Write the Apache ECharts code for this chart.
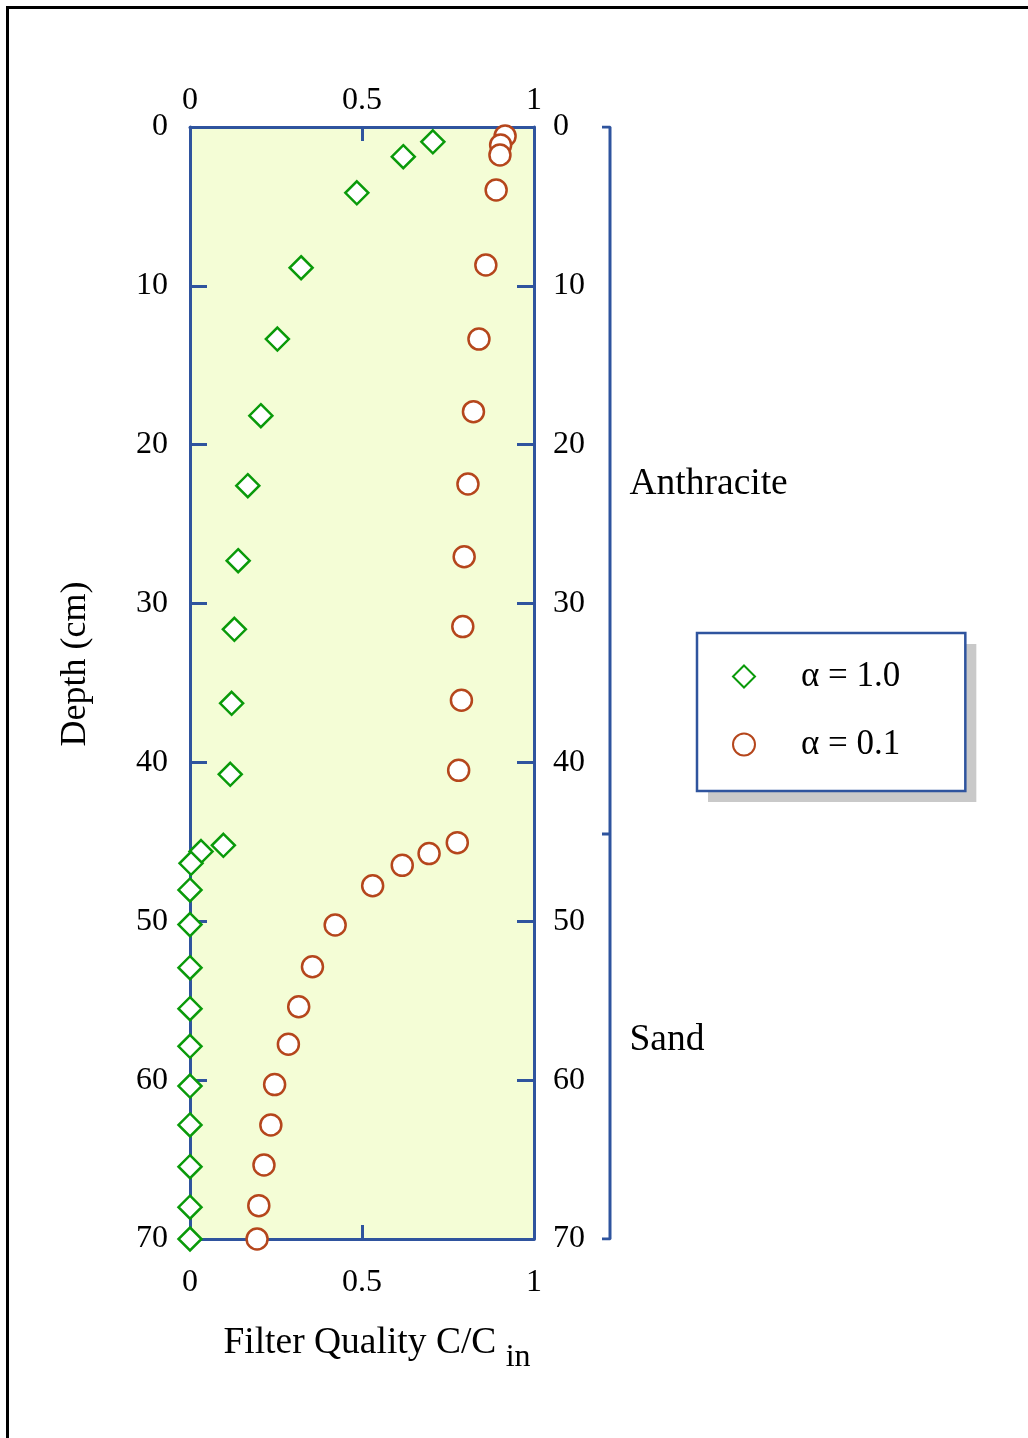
<!DOCTYPE html>
<html>
<head>
<meta charset="utf-8">
<script src="https://cdn.jsdelivr.net/npm/echarts@6/dist/echarts.min.js"></script>
<style>
  html, body { margin: 0; padding: 0; background: #ffffff; }
  #chart { width: 1028px; height: 1438px; }
</style>
</head>
<body>
<div id="chart"></div>
<script>
// ---- Data ----
const seriesNames = ['α = 1.0', 'α = 0.1'];

// α = 1.0 : [C/Cin, depth (cm)]
const alpha10Quality = [0.706, 0.620, 0.485, 0.323, 0.254, 0.206, 0.168, 0.140, 0.129, 0.121, 0.117, 0.097, 0.032, 0.003, 0, 0, 0, 0, 0, 0, 0, 0, 0, 0];
const alpha10Depth   = [0.93, 1.87, 4.14, 8.86, 13.35, 18.17, 22.58, 27.30, 31.62, 36.28, 40.75, 45.22, 45.61, 46.35, 48.03, 50.21, 52.92, 55.50, 57.87, 60.37, 62.82, 65.45, 68.00, 70.0];

// α = 0.1
const alpha01Quality = [0.916, 0.903, 0.901, 0.890, 0.860, 0.840, 0.824, 0.808, 0.797, 0.793, 0.789, 0.781, 0.777, 0.695, 0.617, 0.531, 0.422, 0.356, 0.316, 0.286, 0.246, 0.235, 0.215, 0.200, 0.195];
const alpha01Depth   = [0.57, 1.13, 1.76, 3.97, 8.69, 13.35, 17.92, 22.47, 27.05, 31.45, 36.09, 40.50, 45.05, 45.74, 46.48, 47.76, 50.23, 52.86, 55.38, 57.74, 60.28, 62.82, 65.34, 67.90, 70.0];

// Filter layers
const layerNames  = ['Anthracite', 'Sand'];
const layerBounds = [0, 44.5, 70];
const layerLabelDepths = [22.5, 57.5];

// Axis ranges / ticks
const depthMin = 0, depthMax = 70, depthStep = 10;
const qualityMin = 0, qualityMax = 1, qualityStep = 0.5;

// ---- Styling ----
const AXIS_BLUE = '#2f549e';
const GREEN = '#0a9a0a';
const RUST = '#b5461c';
const FONT = 'Liberation Serif';

const pairs = (xs, ys) => xs.map((v, i) => [v, ys[i]]);

// bracket geometry from layer bounds
const bracketOuter = [[0, layerBounds[0]], [1, layerBounds[0]], [1, layerBounds[layerBounds.length - 1]], [0, layerBounds[layerBounds.length - 1]]];
const bracketInner = layerBounds.slice(1, -1).map(b => [[0, b], [1, b]]);
const layerLabels = layerNames.map((n, i) => [1, layerLabelDepths[i], n]);

const chart = echarts.init(document.getElementById('chart'), null, { renderer: 'canvas' });

const xAxisCommon = {
  type: 'value', min: qualityMin, max: qualityMax, interval: qualityStep,
  splitLine: { show: false },
  axisLine: { show: true, onZero: false, lineStyle: { color: AXIS_BLUE, width: 3 } },
  axisTick: { show: true, inside: true, length: 14, lineStyle: { color: AXIS_BLUE, width: 3 } },
  axisLabel: { color: '#000', fontSize: 32, fontFamily: FONT }
};
const yAxisCommon = {
  type: 'value', inverse: true, min: depthMin, max: depthMax, interval: depthStep,
  splitLine: { show: false },
  axisLine: { show: true, onZero: false, lineStyle: { color: AXIS_BLUE, width: 3 } },
  axisTick: { show: true, inside: true, length: 17, lineStyle: { color: AXIS_BLUE, width: 3 } },
  axisLabel: { color: '#000', fontSize: 32, fontFamily: FONT }
};

const inner = bracketInner.map(seg => ({
  type: 'line', xAxisIndex: 2, yAxisIndex: 2, data: seg, symbol: 'none',
  lineStyle: { color: AXIS_BLUE, width: 3 }, silent: true
}));

const legendCommon = {
  orient: 'vertical',
  left: 697, top: 633,
  padding: [26, 65, 29, 35],
  itemGap: 33,
  itemWidth: 22, itemHeight: 22,
  selectedMode: false,
  data: seriesNames
};

chart.setOption({
  animation: false,
  backgroundColor: '#ffffff',
  textStyle: { fontFamily: FONT },
  grid: [
    { left: 190, top: 127, width: 344, height: 1112, show: true, backgroundColor: '#f4fdd6', borderWidth: 0 },
    { left: 602, top: 127, width: 8, height: 1112, show: false }
  ],
  xAxis: [
    Object.assign({}, xAxisCommon, {
      gridIndex: 0, position: 'bottom',
      axisLabel: Object.assign({}, xAxisCommon.axisLabel, { margin: 28 }),
      name: '{m|Filter Quality C/C }{s|in}',
      nameLocation: 'middle', nameGap: 85,
      nameTextStyle: {
        padding: [0, 0, 0, 30],
        rich: {
          m: { fontSize: 37.5, fontFamily: FONT, color: '#000', lineHeight: 44, verticalAlign: 'top' },
          s: { fontSize: 32, fontFamily: FONT, color: '#000', lineHeight: 32, verticalAlign: 'top', padding: [18, 0, 0, 0] }
        }
      }
    }),
    Object.assign({}, xAxisCommon, {
      gridIndex: 0, position: 'top',
      axisLabel: Object.assign({}, xAxisCommon.axisLabel, { margin: 10 })
    }),
    { type: 'value', gridIndex: 1, min: 0, max: 1, show: false }
  ],
  yAxis: [
    Object.assign({}, yAxisCommon, {
      gridIndex: 0, position: 'left',
      axisLabel: Object.assign({}, yAxisCommon.axisLabel, { margin: 22 }),
      name: 'Depth (cm)', nameLocation: 'middle', nameGap: 96,
      nameTextStyle: { fontSize: 36, fontFamily: FONT, color: '#000', padding: [0, 0, 0, 38] }
    }),
    Object.assign({}, yAxisCommon, {
      gridIndex: 0, position: 'right',
      axisLabel: Object.assign({}, yAxisCommon.axisLabel, { margin: 19 })
    }),
    { type: 'value', gridIndex: 1, inverse: true, min: depthMin, max: depthMax, show: false }
  ],
  legend: [
    // drop shadow layer (items hidden)
    Object.assign({}, legendCommon, {
      z: 3,
      backgroundColor: '#ffffff',
      borderWidth: 0,
      shadowColor: '#c9c9c9', shadowBlur: 0, shadowOffsetX: 11, shadowOffsetY: 11,
      itemStyle: { opacity: 0 },
      textStyle: { fontSize: 35, lineHeight: 34, fontFamily: FONT, color: 'rgba(0,0,0,0)', padding: [0, 0, 0, 41] }
    }),
    // visible legend
    Object.assign({}, legendCommon, {
      z: 4,
      backgroundColor: '#ffffff',
      borderColor: AXIS_BLUE, borderWidth: 2.5,
      textStyle: { fontSize: 35, lineHeight: 34, fontFamily: FONT, color: '#000', padding: [0, 0, 0, 41] }
    })
  ],
  series: [
    {
      name: seriesNames[0], type: 'scatter', xAxisIndex: 0, yAxisIndex: 0,
      symbol: 'diamond', symbolSize: 23, clip: false, z: 5,
      itemStyle: { color: '#ffffff', borderColor: GREEN, borderWidth: 2.5, opacity: 1 },
      data: pairs(alpha10Quality, alpha10Depth)
    },
    {
      name: seriesNames[1], type: 'scatter', xAxisIndex: 0, yAxisIndex: 0,
      symbol: 'circle', symbolSize: 21, clip: false, z: 5,
      itemStyle: { color: '#ffffff', borderColor: RUST, borderWidth: 2.5, opacity: 1 },
      data: pairs(alpha01Quality, alpha01Depth)
    },
    {
      type: 'line', xAxisIndex: 2, yAxisIndex: 2, data: bracketOuter, symbol: 'none',
      lineStyle: { color: AXIS_BLUE, width: 3 }, silent: true
    },
    ...inner,
    {
      type: 'scatter', xAxisIndex: 2, yAxisIndex: 2, symbolSize: 1, silent: true,
      itemStyle: { opacity: 0 },
      data: layerLabels,
      label: {
        show: true, position: 'right', distance: 19,
        formatter: p => p.data[2],
        fontSize: 37.5, fontFamily: FONT, color: '#000000', opacity: 1, textBorderWidth: 0
      }
    }
  ],
  graphic: [
    {
      type: 'polyline', silent: true, z: 100,
      shape: { points: [[7.5, 1438], [7.5, 7.5], [1028, 7.5]] },
      style: { stroke: '#000', lineWidth: 3, fill: null }
    }
  ]
});
</script>
</body>
</html>
